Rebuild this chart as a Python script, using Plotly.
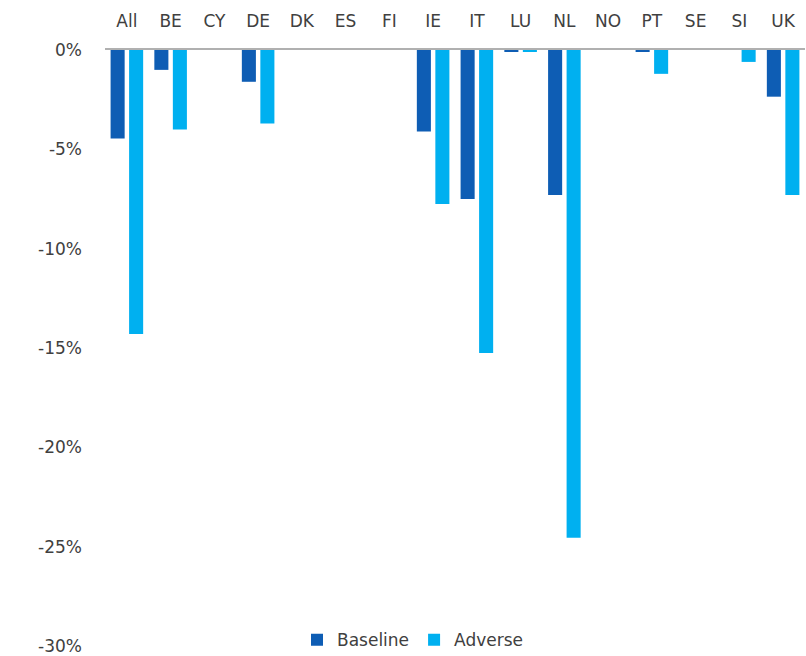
import plotly.graph_objects as go

categories = ["All", "BE", "CY", "DE", "DK", "ES", "FI", "IE", "IT", "LU", "NL", "NO", "PT", "SE", "SI", "UK"]
baseline = [-4.45, -1.0, 0, -1.6, 0, 0, 0, -4.1, -7.5, -0.1, -7.3, 0, -0.1, 0, 0, -2.35]
adverse = [-14.3, -4.0, 0, -3.7, 0, 0, 0, -7.75, -15.25, -0.1, -24.55, 0, -1.2, 0, -0.6, -7.3]
ytick_vals = [0, -5, -10, -15, -20, -25, -30]
ytick_text = ["0%", "-5%", "-10%", "-15%", "-20%", "-25%", "-30%"]

FONT = "DejaVu Sans"
TXT = "#404040"

fig = go.Figure()
fig.add_trace(go.Bar(x=categories, y=baseline, name="Baseline", marker=dict(color="#0E5DB4", line=dict(width=0))))
fig.add_trace(go.Bar(x=categories, y=adverse, name="Adverse", marker=dict(color="#00B0F0", line=dict(width=0))))

fig.update_layout(
    width=806, height=656,
    margin=dict(l=105, r=1, t=50, b=8, autoexpand=False),
    paper_bgcolor="white", plot_bgcolor="white",
    barmode="group", bargap=0.154, bargroupgap=0.24,
    font=dict(family=FONT, size=17, color=TXT),
    showlegend=True,
    legend=dict(orientation="h", x=0.44, xanchor="center", yref="container", y=0.024, yanchor="middle",
                font=dict(family=FONT, size=17, color=TXT), bgcolor="rgba(0,0,0,0)",
                itemwidth=30, tracegroupgap=0),
    xaxis=dict(side="top", showgrid=False, zeroline=False, showline=True,
               linecolor="#B0B0B0", linewidth=2, ticks="", ticklabelstandoff=14,
               tickfont=dict(family=FONT, size=17, color=TXT)),
    yaxis=dict(range=[-30.1, 0], tickvals=ytick_vals, ticktext=ytick_text, showgrid=False,
               zeroline=False, showline=False, ticks="", ticklabelstandoff=22,
               ticklabeloverflow="allow",
               tickfont=dict(family=FONT, size=17, color=TXT)),
)

fig.write_html("out.html")
